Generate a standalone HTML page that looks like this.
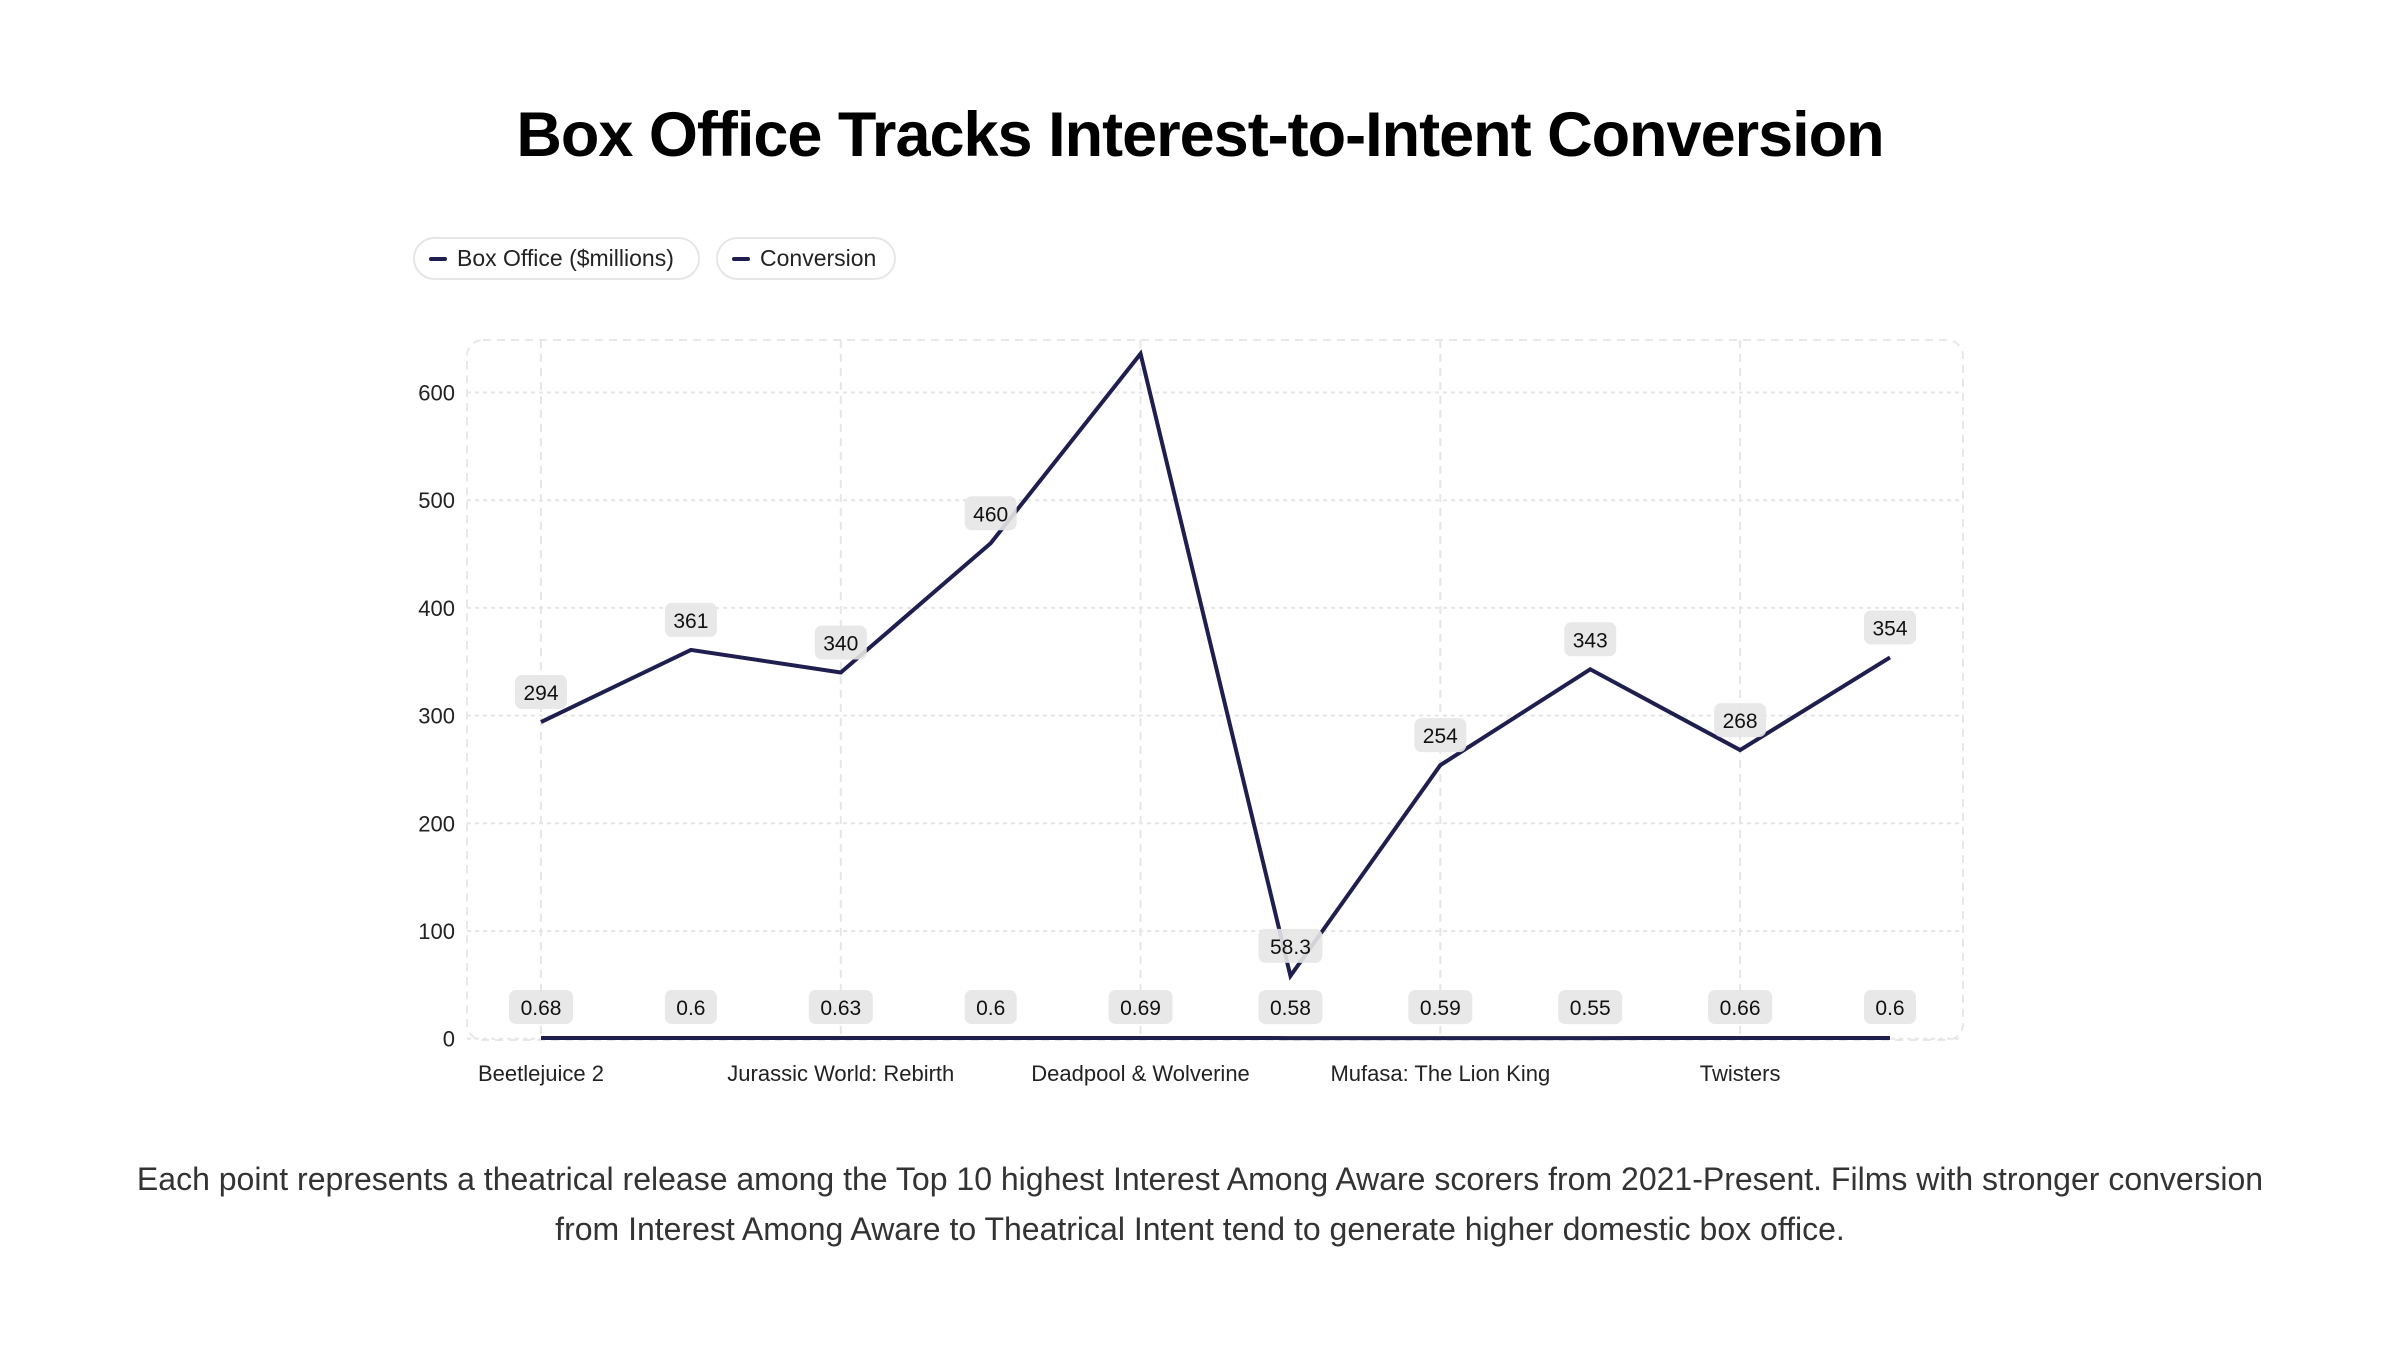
<!DOCTYPE html>
<html><head><meta charset="utf-8"><style>
body{margin:0;width:2400px;height:1350px;background:#fff;font-family:"Liberation Sans",sans-serif;overflow:hidden;position:relative}
.title{position:absolute;top:99px;left:0;width:2400px;text-align:center;font-size:63px;font-weight:bold;color:#000;letter-spacing:-1px}
.legend{position:absolute;top:237px;height:43px;border:2px solid #e6e6e6;border-radius:24px;display:flex;align-items:center;font-size:23px;color:#222;padding:0 14px;box-sizing:border-box;white-space:nowrap}
.legend i{display:inline-block;width:18px;height:4px;background:#1e1e4f;margin-right:10px;border-radius:2px}
.sub{position:absolute;top:1154px;left:0;width:2400px;text-align:center;font-size:32px;line-height:50px;color:#333}
</style></head><body>
<div class="title">Box Office Tracks Interest-to-Intent Conversion</div>
<div class="legend" style="left:413px;width:287px"><i></i>Box Office ($millions)</div>
<div class="legend" style="left:716px;width:180px"><i></i>Conversion</div>
<svg id="chart" width="2400" height="1350" style="position:absolute;left:0;top:0"></svg>
<div class="sub">Each point represents a theatrical release among the Top 10 highest Interest Among Aware scorers from 2021-Present. Films with stronger conversion<br>from Interest Among Aware to Theatrical Intent tend to generate higher domestic box office.</div>
<script>
const categories=["Beetlejuice 2","Inside Out 2","Jurassic World: Rebirth","Wicked","Deadpool & Wolverine","Bad Boys: Ride or Die","Mufasa: The Lion King","Dune: Part Two","Twisters","Superman"];
const boxOffice=[294,361,340,460,636,58.3,254,343,268,354];
const boxLabels=["294","361","340","460","","58.3","254","343","268","354"];
const conversion=[0.68,0.6,0.63,0.6,0.69,0.58,0.59,0.55,0.66,0.6];
const yTicks=[0,100,200,300,400,500,600];
const NS="http://www.w3.org/2000/svg";
const svg=document.getElementById('chart');
const x0=541,x1=1890,yBase=1038.7,yPer=1.077;
const X=i=>x0+i*(x1-x0)/(categories.length-1);
const Y=v=>yBase-v*yPer;
function mk(t,a){const e=document.createElementNS(NS,t);for(const k in a)e.setAttribute(k,a[k]);svg.appendChild(e);return e;}
let f=mk('rect',{x:467,y:340,width:1496,height:700,rx:16,fill:'none',stroke:'#e8e8e8','stroke-width':2,'stroke-dasharray':'8 6'});


yTicks.forEach(v=>{
 let g=mk('line',{x1:467,x2:1963,y1:Y(v),y2:Y(v),stroke:'#e6e6e6','stroke-width':2,'stroke-dasharray':'4 4'});
 
 
 let t=mk('text',{x:455,y:Y(v)+8,'text-anchor':'end','font-size':22,fill:'#222'});t.textContent=v;
 
 
});
categories.forEach((c,i)=>{
 if(i%2)return;
 let g=mk('line',{x1:X(i),x2:X(i),y1:340,y2:1040,stroke:'#e6e6e6','stroke-width':2,'stroke-dasharray':'8 6'});
 
 
 let t=mk('text',{x:X(i),y:1081,'text-anchor':'middle','font-size':22,fill:'#222'});t.textContent=c;
 
 
});
const convY=v=>yBase-v*yPer;
let cl=mk('polyline',{points:conversion.map((v,i)=>X(i)+','+convY(v)).join(' '),fill:'none',stroke:'#1e1e4f','stroke-width':4});


let bl=mk('polyline',{points:boxOffice.map((v,i)=>X(i)+','+Y(v)).join(' '),fill:'none',stroke:'#1e1e4f','stroke-width':4,'stroke-linejoin':'miter'});


function label(x,y,txt,name){
 if(!txt)return;
 const w=txt.length*12+16;
 let r=mk('rect',{x:x-w/2,y:y-17,width:w,height:34,rx:7,fill:'#e5e5e5',opacity:0.9});
 
 
 let t=mk('text',{x:x,y:y+8,'text-anchor':'middle','font-size':21,fill:'#111'});t.textContent=txt;
 
 
}
boxOffice.forEach((v,i)=>label(X(i),Y(v)-30,boxLabels[i],'box-office-label'));
conversion.forEach((v,i)=>label(X(i),convY(v)-31,String(v),'conversion-label'));
</script>
</body></html>
